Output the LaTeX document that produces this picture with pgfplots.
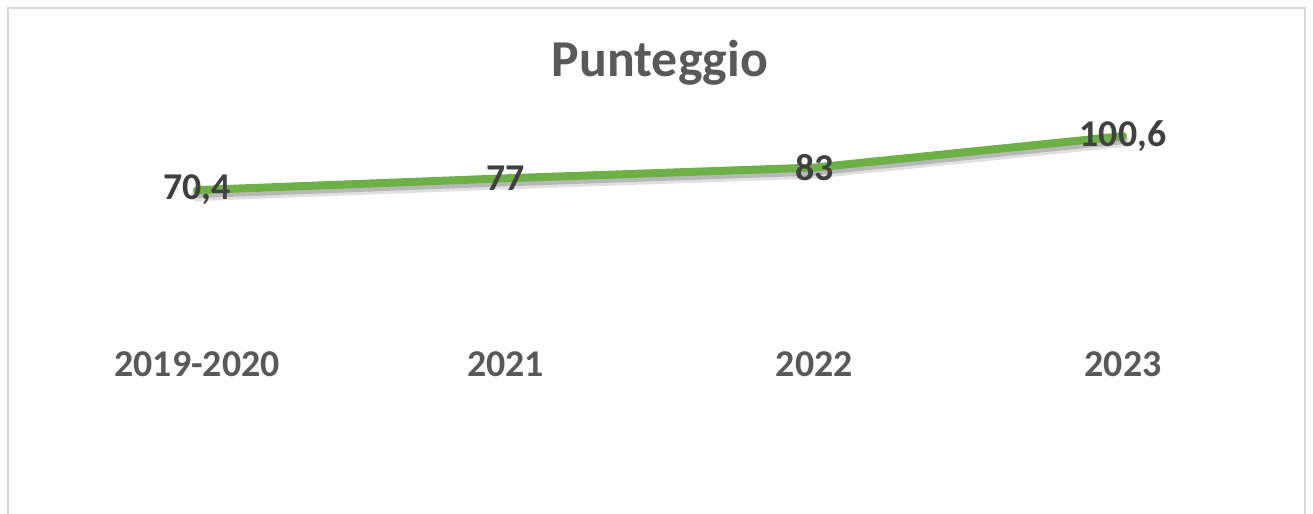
\documentclass[border=0pt]{standalone}
\usepackage{fontspec}
\setmainfont{Carlito}
\usepackage{pgfplots}
\pgfplotsset{compat=1.18}
\definecolor{linegreen}{RGB}{108,176,70}
\definecolor{titlegray}{RGB}{89,89,89}
\definecolor{labelgray}{RGB}{64,64,64}
\definecolor{bordergray}{RGB}{217,217,217}
\begin{document}
\begin{tikzpicture}
\useasboundingbox (0,0) rectangle (1313bp,514bp);
\fill[white] (0,0) rectangle (1313bp,514bp);
\draw[bordergray, line width=2.5bp] (8bp,-20bp) rectangle (1305bp,506bp);
\node[anchor=base, font=\fontsize{52}{60}\selectfont\bfseries, text=titlegray] at (660bp,437bp) {Punteggio};
\begin{axis}[
  at={(197bp,198bp)}, anchor=origin,
  x=308.67bp, y=1.788bp,
  xmin=0, xmax=3, ymin=0, ymax=110,
  clip=false,
  axis line style={draw=none}, tick style={draw=none},
  ytick=\empty, xtick={0,1,2,3},
  xticklabels={2019-2020,2021,2022,2023},
  xticklabel style={font=\fontsize{38}{44}\selectfont\bfseries, text=titlegray, anchor=base, yshift=-61bp},
  /pgf/number format/assume math mode=true,
  /pgf/number format/use comma,
  nodes near coords,
  every node near coord/.append style={anchor=center, font=\fontsize{38}{44}\selectfont\bfseries, text=labelgray},
]
\addplot[linegreen, line width=8bp, line cap=round, line join=round, mark=none,
  preaction={draw=black, opacity=0.12, line width=12bp, transform canvas={yshift=-5bp}},
  preaction={draw=black, opacity=0.18, line width=8bp, transform canvas={yshift=-4bp}}]
  coordinates {(0,70.4) (1,77) (2,83) (3,100.6)};
\end{axis}
\end{tikzpicture}
\end{document}
